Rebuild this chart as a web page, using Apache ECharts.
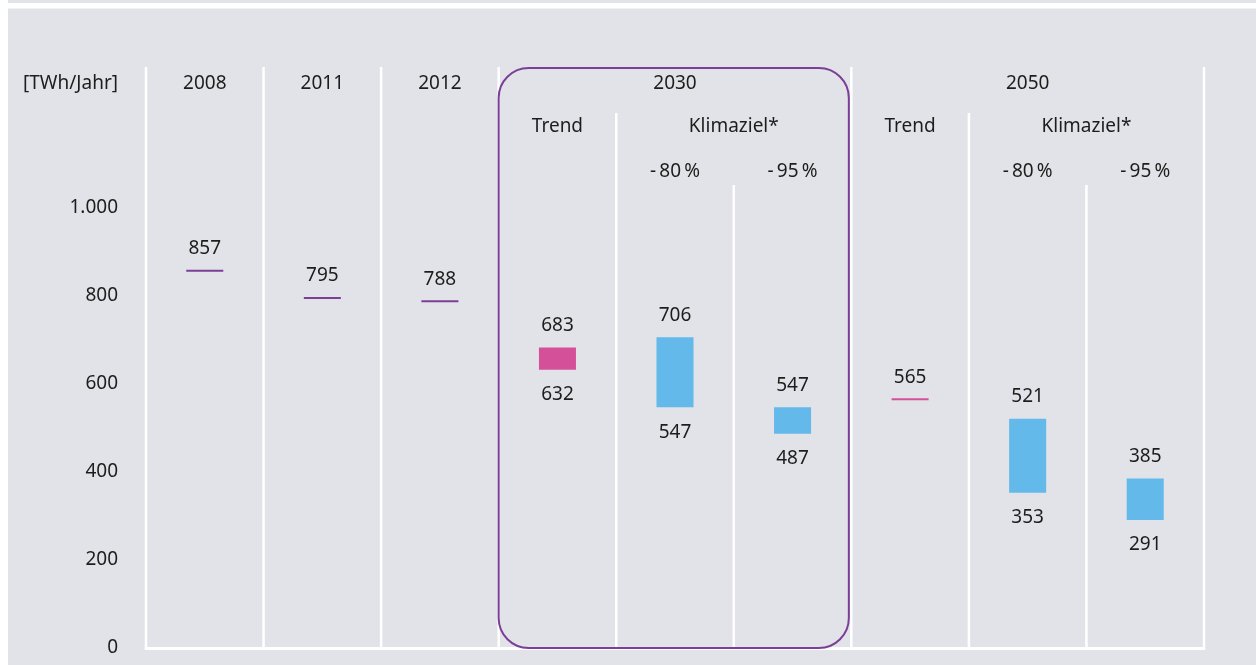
<!DOCTYPE html>
<html>
<head>
<meta charset="utf-8">
<script src="https://cdn.jsdelivr.net/npm/echarts@6/dist/echarts.min.js"></script>
<style>
  html, body { margin: 0; padding: 0; background: #fff; }
  #main { width: 1256px; height: 665px; }
</style>
</head>
<body>
<div id="main"></div>
<script>
// Stromverbrauch [TWh/Jahr] - Ist-Werte und Szenarien
var categories = ['2008', '2011', '2012', '2030 Trend', '2030 -80%', '2030 -95%', '2050 Trend', '2050 -80%', '2050 -95%'];
var scenario   = ['Ist', 'Ist', 'Ist', 'Trend', 'Klimaziel', 'Klimaziel', 'Trend', 'Klimaziel', 'Klimaziel'];
var upperValues = [857, 795, 788, 683, 706, 547, 565, 521, 385];
var lowerValues = [857, 795, 788, 632, 547, 487, 565, 353, 291];

// Kopfzeilen: [Text, von Index, bis Index]
var yearGroups = [['2008', 0, 0], ['2011', 1, 1], ['2012', 2, 2], ['2030', 3, 5], ['2050', 6, 8]];
var scenarioGroups = [['Trend', 3, 3], ['Klimaziel*', 4, 5], ['Trend', 6, 6], ['Klimaziel*', 7, 8]];
var targetGroups = [['-\u200980\u2009%', 4, 4], ['-\u200995\u2009%', 5, 5], ['-\u200980\u2009%', 7, 7], ['-\u200995\u2009%', 8, 8]];
var unitLabel = '[TWh/Jahr]';
var yTicks = [0, 200, 400, 600, 800, 1000];

var FONT = '"Noto Sans", "DejaVu Sans", sans-serif';
var TEXT_COLOR = '#1d1d1b';
var markColor = {
    Ist: '#7b3f98',
    Trend: '#d4519a',
    Klimaziel: '#63b9ea'
};
var lineColor = {
    Ist: '#7b3f98',
    Trend: '#d4519a'
};

var chart = echarts.init(document.getElementById('main'));

function label(text, x, y, align) {
    return {
        type: 'text',
        style: {
            text: text, x: x, y: y,
            align: align || 'center', verticalAlign: 'middle',
            fill: TEXT_COLOR, fontSize: 19, fontFamily: FONT
        }
    };
}

function spanCenter(api, from, to) {
    return (api.coord([from, 0])[0] + api.coord([to, 0])[0]) / 2;
}

// Trennlinien + Kopfzeilen
function renderFrame(params, api) {
    var cs = params.coordSys;
    var band = api.size([1, 0])[0];
    var children = [];
    var levelTop = [cs.y, cs.y + 46, cs.y + 118];
    var seen = {};
    function divider(pos, level) {
        if (seen[pos] !== undefined) return;
        seen[pos] = level;
        var x = api.coord([0, 0])[0] + (pos) * band;
        children.push({
            type: 'line',
            shape: { x1: x, y1: levelTop[level], x2: x, y2: cs.y + cs.height },
            style: { stroke: '#fff', lineWidth: 2.5 }
        });
    }
    yearGroups.forEach(function (g) { divider(g[1] - 0.5, 0); divider(g[2] + 0.5, 0); });
    scenarioGroups.forEach(function (g) { divider(g[1] - 0.5, 1); divider(g[2] + 0.5, 1); });
    targetGroups.forEach(function (g) { divider(g[1] - 0.5, 2); divider(g[2] + 0.5, 2); });

    yearGroups.forEach(function (g) {
        children.push(label(g[0], spanCenter(api, g[1], g[2]), cs.y + 17));
    });
    scenarioGroups.forEach(function (g) {
        children.push(label(g[0], spanCenter(api, g[1], g[2]), cs.y + 60));
    });
    targetGroups.forEach(function (g) {
        children.push(label(g[0], spanCenter(api, g[1], g[2]), cs.y + 105));
    });
    children.push(label(unitLabel, cs.x - 28, cs.y + 17, 'right'));

    // Rahmen um 2030
    var g2030 = yearGroups[3];
    var left = api.coord([g2030[1], 0])[0] - band / 2;
    var right = api.coord([g2030[2], 0])[0] + band / 2 - 2.5;
    children.push({
        type: 'rect',
        shape: { x: left, y: cs.y + 1, width: right - left, height: cs.height - 1, r: 30 },
        style: { fill: 'none', stroke: '#7b3f98', lineWidth: 2 }
    });
    return { type: 'group', children: children };
}

function renderMark(params, api) {
    var i = api.value(0);
    var hi = api.value(1);
    var lo = api.value(2);
    var top = api.coord([i, hi]);
    var bot = api.coord([i, lo]);
    var w = api.size([1, 0])[0] * 0.315;
    var kind = scenario[i];
    var children = [];
    if (hi === lo) {
        children.push({
            type: 'rect',
            shape: { x: top[0] - w / 2, y: top[1] - 1, width: w, height: 2 },
            style: { fill: lineColor[kind] }
        });
        children.push(label(String(hi), top[0], top[1] - 22));
    } else {
        children.push({
            type: 'rect',
            shape: { x: top[0] - w / 2, y: top[1], width: w, height: bot[1] - top[1] },
            style: { fill: markColor[kind] }
        });
        children.push(label(String(hi), top[0], top[1] - 22));
        children.push(label(String(lo), top[0], bot[1] + 25));
    }
    return { type: 'group', children: children };
}

var markData = categories.map(function (c, i) {
    return [i, upperValues[i], lowerValues[i]];
});

var option = {
    backgroundColor: '#e2e3e8',
    animation: false,
    grid: { left: 146, right: 52, top: 67, bottom: 17 },
    xAxis: {
        type: 'category',
        data: categories,
        boundaryGap: true,
        axisLine: { show: true, lineStyle: { color: '#fff', width: 3 } },
        axisTick: { show: false },
        axisLabel: { show: false },
        splitLine: { show: false }
    },
    yAxis: {
        type: 'value',
        min: 0,
        max: 1320,
        interval: 200,
        axisLine: { show: false },
        axisTick: { show: false },
        splitLine: { show: false },
        axisLabel: {
            margin: 28,
            color: TEXT_COLOR,
            fontSize: 19,
            fontFamily: FONT,
            showMaxLabel: false,
            formatter: function (v) {
                if (yTicks.indexOf(v) < 0) return '';
                return v >= 1000 ? (Math.floor(v / 1000) + '.' + String(v % 1000).padStart(3, '0')) : String(v);
            }
        }
    },
    graphic: [
        { type: 'rect', left: 0, top: 0, shape: { width: 8, height: 665 }, style: { fill: '#fff' }, silent: true },
        { type: 'rect', left: 8, top: 3, shape: { width: 1248, height: 5.5 }, style: { fill: '#fff' }, silent: true }
    ],
    series: [
        {
            type: 'custom',
            name: 'frame',
            renderItem: renderFrame,
            data: [[0, 0]],
            silent: true,
            z: 1
        },
        {
            type: 'custom',
            name: 'Verbrauch',
            renderItem: renderMark,
            encode: { x: 0, y: [1, 2] },
            data: markData,
            z: 2
        }
    ]
};

chart.setOption(option);
</script>
</body>
</html>
